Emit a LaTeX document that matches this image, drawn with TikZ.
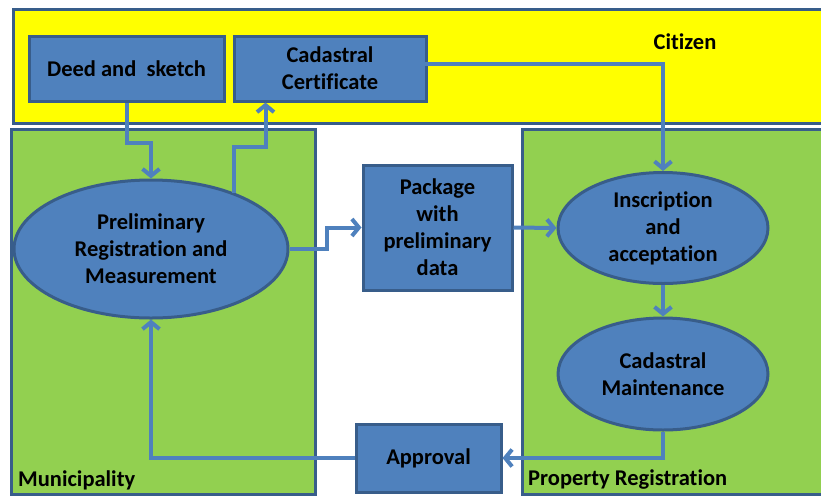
\documentclass[tikz,border=0pt]{standalone}
\usepackage{fontspec}
\setmainfont{Carlito}[Ligatures=NoCommon]
\usetikzlibrary{arrows.meta,calc,positioning,shapes.geometric}
\definecolor{citizenyellow}{RGB}{255,255,0}
\definecolor{laneGreen}{RGB}{146,208,80}
\definecolor{procblue}{RGB}{79,129,189}
\definecolor{edgeblue}{RGB}{56,93,138}
\tikzset{
  flow/.style={-{Straight Barb[length=7pt,width=17pt]}, line width=4pt, draw=procblue},
  lane/.style={draw=edgeblue, line width=3pt, anchor=north west, inner sep=0pt},
  lanelabel/.style={font=\bfseries\fontsize{22.5pt}{27pt}\selectfont, inner sep=0pt},
  procbox/.style={
    draw=edgeblue,
    line width=3pt,
    fill=procblue,
    align=center,
    inner sep=0pt,
    font=\bfseries\fontsize{22.5pt}{27pt}\selectfont
  },
  procell/.style={procbox, ellipse}
}

\begin{document}
\begin{tikzpicture}[x=1pt,y=-1pt]
  \useasboundingbox (0,0) rectangle (821,496);
  % swim lanes
  \node[lane,fill=citizenyellow,minimum width=830pt,minimum height=114pt] (citizen) at (12,8) {};
  \node[lane,fill=laneGreen,minimum width=304pt,minimum height=365pt] (municip) at (10,128) {};
  \node[lane,fill=laneGreen,minimum width=320pt,minimum height=365pt] (propreg) at (521,128) {};
  \node[lanelabel] (citizentxt) at (685,42) {Citizen};
  \node[lanelabel,anchor=south west] (municiptxt) at (18,490) {Municipality};
  \node[lanelabel,anchor=south west] (propregtxt) at (528,490) {Property Registration};

  % steps
  \node[procbox,minimum width=195pt,minimum height=65pt] (deed) at (126.5,68.5) {Deed and\ \ sketch};
  \node[procbox,minimum width=192pt,minimum height=65pt] (cert) at (330,68.5) {Cadastral\\Certificate};
  \node[procell,minimum width=274pt,minimum height=138pt] (prelim) at (151,249) {Preliminary\\Registration and\\Measurement};
  \node[procbox,minimum width=149pt,minimum height=125pt] (pkg) at (437.5,227.5) {Package\\with\\preliminary\\data};
  \node[procell,minimum width=210pt,minimum height=111pt] (insc) at (663,228) {Inscription\\and\\acceptation};
  \node[procell,minimum width=210pt,minimum height=112pt] (maint) at (663,374) {Cadastral\\Maintenance};
  \node[procbox,minimum width=145pt,minimum height=68pt] (appr) at (428.5,458) {Approval};

  \draw[flow] (deed.south) -- ++(0,40) -| (prelim.north);
  \draw[flow] (prelim.34) -- ++(0,-46) -| ($(cert.south west)+(33,0)$);
  \draw[flow] ($(cert.center)+(0,-5)$) -| (insc.north);
  \draw[flow] (prelim.east) -- ++(37,0) |- (pkg.west);
  \draw[flow] (pkg.east) -- (insc.west);
  \draw[flow] (insc.south) -- (maint.north);
  \draw[flow] (maint.south) |- (appr.east);
  \draw[flow] (appr.west) -| (prelim.south);
\end{tikzpicture}
\end{document}
